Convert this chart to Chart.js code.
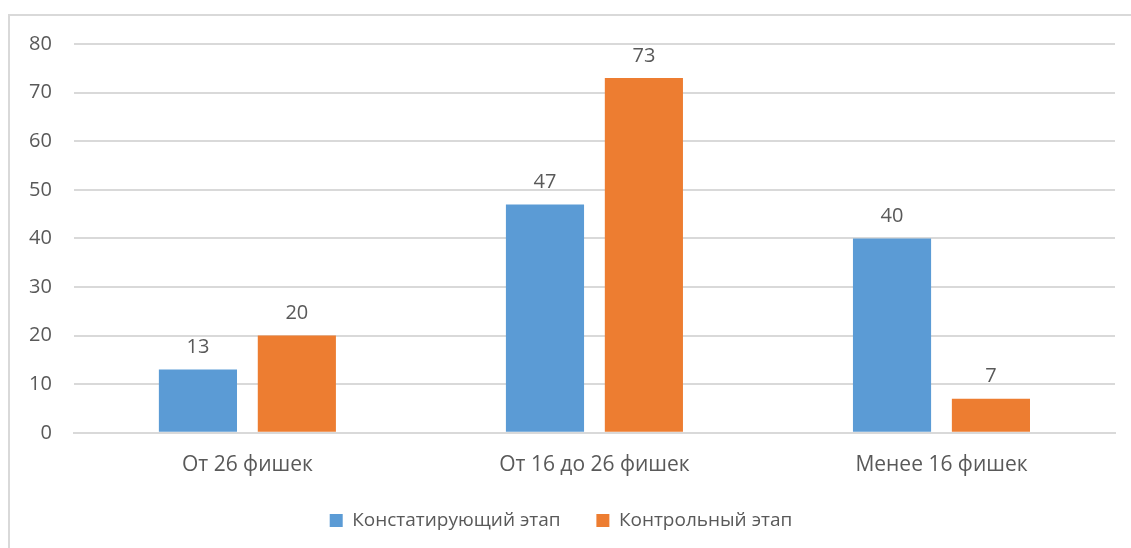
<!DOCTYPE html>
<html>
<head>
<meta charset="utf-8">
<script src="https://cdn.jsdelivr.net/npm/chart.js@4"></script>
<style>
  html, body { margin: 0; padding: 0; background: #fff; }
  body { width: 1131px; height: 548px; position: relative; overflow: hidden; }
  #frame { position: absolute; left: 8px; top: 14px; width: 1140px; height: 560px; border: 2px solid #d9d9d9; box-sizing: border-box; }
  #wrap { position: absolute; left: 0; top: 0; width: 1131px; height: 548px; }
</style>
</head>
<body>
<div id="frame"></div>
<div id="wrap"><canvas id="chart"></canvas></div>
<script>
// данные диаграммы
var categories = ['От 26 фишек', 'От 16 до 26 фишек', 'Менее 16 фишек'];
var stage1 = [13, 47, 40];
var stage2 = [20, 73, 7];
var seriesNames = ['Констатирующий этап\u00a0\u00a0\u00a0', 'Контрольный этап'];
var yTicks = [0, 10, 20, 30, 40, 50, 60, 70, 80];

var textColor = '#595959';
var fontFamily = "'Open Sans', 'Noto Sans', sans-serif";

// подписи значений над столбцами
var valueLabels = {
    id: 'valueLabels',
    afterDatasetsDraw: function(chart) {
        var ctx = chart.ctx;
        ctx.save();
        ctx.fillStyle = textColor;
        ctx.font = '20px ' + fontFamily;
        ctx.textAlign = 'center';
        ctx.textBaseline = 'bottom';
        chart.data.datasets.forEach(function(ds, i) {
            chart.getDatasetMeta(i).data.forEach(function(bar, j) {
                ctx.fillText(ds.data[j], bar.x, bar.y - 12);
            });
        });
        ctx.restore();
    }
};

new Chart(document.getElementById('chart'), {
    type: 'bar',
    data: {
        labels: categories,
        datasets: [{
            label: seriesNames[0],
            data: stage1,
            backgroundColor: '#5b9bd5',
            categoryPercentage: 0.57,
            barPercentage: 0.79
        }, {
            label: seriesNames[1],
            data: stage2,
            backgroundColor: '#ed7d31',
            categoryPercentage: 0.57,
            barPercentage: 0.79
        }]
    },
    options: {
        responsive: true,
        maintainAspectRatio: false,
        animation: false,
        layout: { padding: { left: 7, right: 16, top: 44, bottom: 8 } },
        plugins: {
            legend: {
                position: 'bottom',
                labels: {
                    color: textColor,
                    font: { size: 19, family: fontFamily },
                    boxWidth: 13,
                    boxHeight: 13,
                    padding: 21
                }
            },
            tooltip: { enabled: false }
        },
        scales: {
            x: {
                grid: { display: false },
                border: { color: '#d9d9d9', width: 2 },
                ticks: { color: textColor, font: { size: 21, family: fontFamily }, padding: 12 }
            },
            y: {
                min: 0,
                max: 80,
                afterBuildTicks: function(axis) {
                    axis.ticks = yTicks.map(function(v) { return { value: v }; });
                },
                grid: { color: '#d9d9d9', lineWidth: 2, drawTicks: false },
                border: { display: false },
                ticks: { color: textColor, font: { size: 20, family: fontFamily }, padding: 22 }
            }
        }
    },
    plugins: [valueLabels]
});
</script>
</body>
</html>
